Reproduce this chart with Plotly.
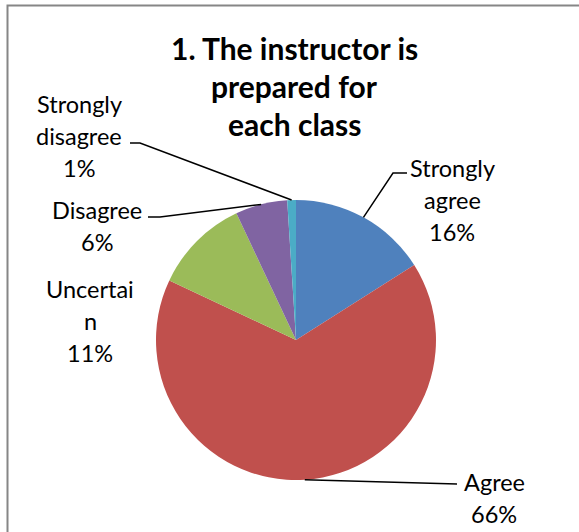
import math
import plotly.graph_objects as go

# data
labels = ["Strongly agree", "Agree", "Uncertain", "Disagree", "Strongly disagree"]
values = [16, 66, 11, 6, 1]
colors = ["#4F81BD", "#C0504D", "#9BBB59", "#8064A2", "#4BACC6"]
# label text, wrapped the way the original chart wrapped it
label_lines = [["Strongly", "agree"], ["Agree"], ["Uncertai", "n"], ["Disagree"], ["Strongly", "disagree"]]
title_lines = ["1. The instructor is", "prepared for", "each class"]

W, H = 579, 532
CX, CY, R = 296, 340, 140  # pie centre and radius in pixels

# where each label block sits (centre x, centre y of first line) and its line pitch
label_pos = [(452, 168), (494, 482), (90, 289), (97, 210), (79, 104)]
line_pitch = 32
# leader line: knee and end point next to the label (None = no leader)
leader_knee = [(393, 173), None, None, (160, 217), (140, 143)]
leader_end = [(407, 173), (457, 484), None, (148, 217), (130, 143)]


def px(x):
    return x / W


def py(y):
    return 1 - y / H


total = sum(values)
fig = go.Figure()
fig.add_trace(go.Pie(
    labels=labels,
    values=values,
    sort=False,
    direction="clockwise",
    rotation=0,
    marker=dict(colors=colors, line=dict(width=0)),
    textinfo="none",
    hoverinfo="label+percent",
    showlegend=False,
    domain=dict(x=[px(CX - R), px(CX + R)], y=[py(CY + R), py(CY - R)]),
))

annotations = []
shapes = []

# title
for i, t in enumerate(title_lines):
    annotations.append(dict(
        x=px(294), y=py(48 + i * 38), xref="paper", yref="paper",
        text="<b>%s</b>" % t, showarrow=False, xanchor="center", yanchor="middle",
        font=dict(family="Lato", size=30, color="black"),
    ))

# labels + leader lines
cum = 0
for i, v in enumerate(values):
    mid = (cum + v / 2) / total * 2 * math.pi
    cum += v
    pct = round(v / total * 100)
    lines = label_lines[i] + ["%d%%" % pct]
    lx, ly = label_pos[i]
    for j, t in enumerate(lines):
        annotations.append(dict(
            x=px(lx), y=py(ly + j * line_pitch), xref="paper", yref="paper",
            text=t, showarrow=False, xanchor="center", yanchor="middle",
            font=dict(family="Lato", size=23.5, color="black"),
        ))
    if leader_end[i] is None:
        continue
    tip = (CX + R * math.sin(mid), CY - R * math.cos(mid))
    pts = [tip]
    if leader_knee[i] is not None:
        pts.append(leader_knee[i])
    pts.append(leader_end[i])
    path = "M " + " L ".join("%f,%f" % (px(a), py(b)) for a, b in pts)
    shapes.append(dict(type="path", path=path, xref="paper", yref="paper",
                       line=dict(color="black", width=1.5)))

# chart area border (only top and left edges are visible in the crop)
shapes.append(dict(type="rect", xref="paper", yref="paper",
                   x0=px(7.5), x1=px(W + 20), y0=py(H + 20), y1=py(5.5),
                   line=dict(color="#868686", width=2)))

fig.update_layout(
    width=W, height=H,
    margin=dict(l=0, r=0, t=0, b=0),
    paper_bgcolor="white",
    plot_bgcolor="white",
    annotations=annotations,
    shapes=shapes,
)

# drop the default page margin so the figure fills the window exactly
fig.write_html("out.html", config={"displayModeBar": False},
               post_script="document.body.style.margin='0';")
